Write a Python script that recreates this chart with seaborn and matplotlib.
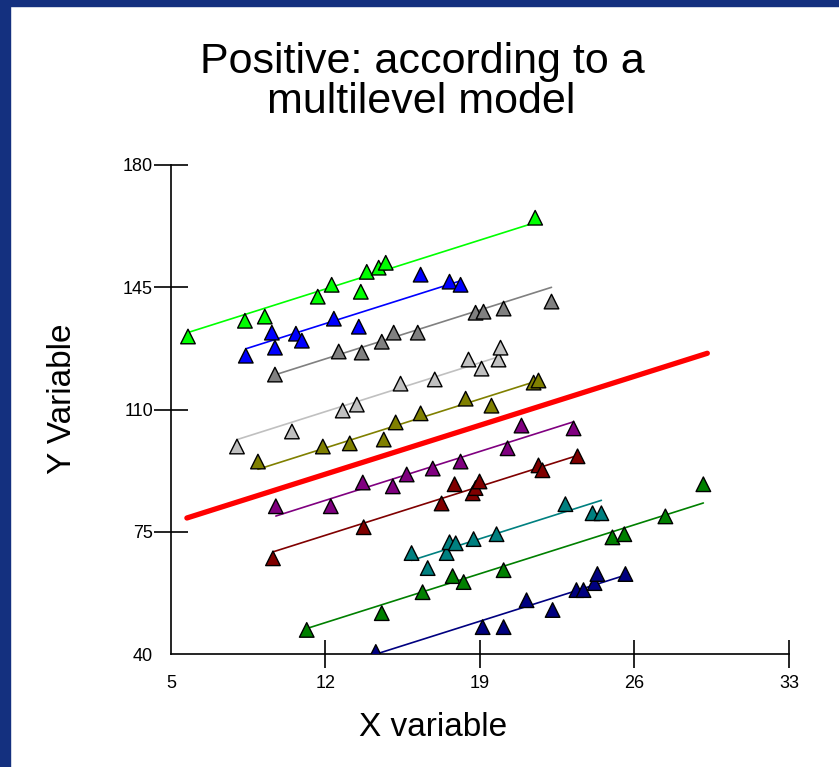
import numpy as np
import pandas as pd
import matplotlib
matplotlib.use("Agg")
import matplotlib.pyplot as plt
import seaborn as sns

# group colours (top to bottom)
groups = ["g1", "g2", "g3", "g4", "g5", "g6", "g7", "g8", "g9", "g10"]
colors = ["#00ff00", "#0000ff", "#808080", "#c0c0c0", "#808000",
          "#800080", "#800000", "#008080", "#008000", "#000080"]

# points, one list per group
x1 = [5.77, 8.35, 9.25, 11.65, 12.28, 13.6, 13.87, 14.41, 14.73, 21.5]
y1 = [130.9, 135.4, 136.6, 142.3, 145.7, 143.7, 149.4, 150.6, 152.0, 164.9]
x2 = [8.39, 9.57, 9.71, 10.66, 10.93, 12.38, 13.51, 16.31, 17.62, 18.12]
y2 = [125.4, 132.0, 127.7, 131.7, 129.7, 136.0, 133.7, 148.6, 146.6, 145.7]
x3 = [9.71, 12.6, 13.64, 14.55, 15.09, 16.18, 18.8, 19.16, 20.07, 22.24]
y3 = [120.0, 126.6, 126.3, 129.4, 132.0, 132.0, 137.7, 138.0, 138.9, 140.9]
x4 = [7.99, 10.48, 12.78, 13.42, 15.4, 16.95, 18.48, 19.07, 19.84, 19.93]
y4 = [99.4, 103.7, 109.7, 111.4, 117.4, 118.6, 124.3, 121.7, 124.3, 127.7]
x5 = [8.94, 11.88, 13.1, 14.64, 15.18, 16.31, 18.35, 19.52, 21.43, 21.65]
y5 = [95.1, 99.4, 100.3, 101.4, 106.3, 108.9, 113.1, 111.1, 117.7, 118.3]
x6 = [9.75, 12.24, 13.69, 15.05, 15.68, 16.86, 18.12, 20.25, 20.88, 23.24]
y6 = [82.3, 82.3, 89.1, 88.0, 91.4, 93.1, 95.1, 98.9, 105.4, 104.6]
x7 = [9.62, 13.73, 17.26, 17.85, 18.67, 18.8, 18.98, 21.65, 21.83, 23.42]
y7 = [67.4, 76.3, 83.1, 88.6, 86.0, 87.5, 89.4, 94.0, 92.6, 96.6]
x8 = [15.9, 16.63, 17.49, 17.62, 17.9, 18.71, 19.75, 22.87, 24.1, 24.5]
y8 = [68.9, 64.6, 68.9, 72.0, 71.7, 72.9, 74.3, 82.9, 80.3, 80.3]
x9 = [11.15, 14.55, 16.4, 17.76, 18.26, 20.07, 25.0, 25.54, 27.4, 29.12]
y9 = [46.9, 51.7, 57.7, 62.3, 60.6, 64.0, 73.4, 74.3, 79.4, 88.6]
x10 = [14.28, 19.12, 20.07, 21.11, 22.29, 23.37, 23.69, 24.19, 24.32, 25.59]
y10 = [40.6, 47.7, 47.7, 55.4, 52.6, 58.3, 58.3, 60.3, 62.9, 62.9]

# multilevel model: common slope, group intercepts
slope = 2.0
intercepts = [120.5, 110.6, 100.5, 85.4, 75.0, 60.0, 50.0, 35.0, 25.0, 11.4]
fixed_intercept = 67.5
fixed_x = [5.72, 29.3]

xs = [x1, x2, x3, x4, x5, x6, x7, x8, x9, x10]
ys = [y1, y2, y3, y4, y5, y6, y7, y8, y9, y10]

pts = pd.concat([pd.DataFrame({"x": xv, "y": yv, "group": g})
                 for g, xv, yv in zip(groups, xs, ys)], ignore_index=True)

fit_rows = []
for g, xv, a in zip(groups, xs, intercepts):
    for xe in (min(xv), max(xv)):
        fit_rows.append({"x": xe, "y": a + slope * xe, "group": g})
fits = pd.DataFrame(fit_rows)
fixed = pd.DataFrame({"x": fixed_x, "y": [fixed_intercept + slope * v for v in fixed_x]})

sns.set_style("white")
plt.rcParams["font.family"] = ["Liberation Sans", "DejaVu Sans"]
plt.rcParams["text.color"] = "black"

palette = dict(zip(groups, colors))

fig = plt.figure(figsize=(8.39, 7.67), dpi=100)
fig.patch.set_facecolor("white")
ax = fig.add_axes([0.2038, 0.1473, 0.7366, 0.6376])

sns.lineplot(data=fits, x="x", y="y", hue="group", palette=palette,
             units="group", estimator=None, lw=1.2, legend=False, ax=ax)
sns.lineplot(data=fixed, x="x", y="y", color="#ff0000", lw=3.8, ax=ax)
sns.scatterplot(data=pts, x="x", y="y", hue="group", palette=palette,
                marker="^", s=110, edgecolor="black", linewidth=1,
                legend=False, ax=ax, zorder=3)

ax.set_xlim(5, 33)
ax.set_ylim(40, 180)
ax.set_xticks([5, 12, 19, 26, 33])
ax.set_yticks([40, 75, 110, 145, 180])
ax.set_xlabel("")
ax.set_ylabel("")
for s in ["top", "right"]:
    ax.spines[s].set_visible(False)
for s in ["left", "bottom"]:
    ax.spines[s].set_color("black")
    ax.spines[s].set_linewidth(1.2)
ax.tick_params(axis="y", direction="inout", length=24, width=1.2, colors="black",
               labelsize=13, pad=1, left=True)
ax.tick_params(axis="x", direction="inout", length=20, width=1.2, colors="black",
               labelsize=13, pad=5, bottom=True)
# no tick marks at the corner
ax.xaxis.get_major_ticks()[0].tick1line.set_visible(False)
ax.yaxis.get_major_ticks()[0].tick1line.set_visible(False)
ax.patch.set_alpha(0)

fig.text(0.503, 1 - 62 / 767, "Positive: according to a", ha="center",
         va="center", fontsize=31)
fig.text(0.502, 1 - 102 / 767, "multilevel model", ha="center",
         va="center", fontsize=31)
fig.text(0.516, 1 - 727 / 767, "X variable", ha="center", va="center", fontsize=24)
fig.text(0.075, 1 - 399 / 767, "Y Variable", ha="center", va="center", fontsize=24,
         rotation=90)

# dark blue frame on top and left
fig.patches.append(plt.Rectangle((0, 0), 0.012, 1, transform=fig.transFigure,
                                 color="#14307f", zorder=-1))
fig.patches.append(plt.Rectangle((0, 0.992), 1, 0.008, transform=fig.transFigure,
                                 color="#14307f", zorder=-1))

fig.savefig("out.png", dpi=100)
